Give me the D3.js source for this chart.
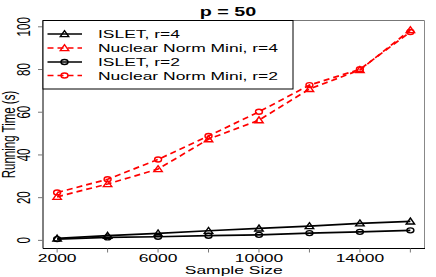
<!DOCTYPE html>
<html>
<head>
<meta charset="utf-8">
<script src="https://cdn.jsdelivr.net/npm/d3@7"></script>
<style>
  body { margin: 0; background: #fff; }
  text { font-family: "Liberation Sans", Arial, sans-serif; }
</style>
</head>
<body>
<script>
"use strict";

// sample sizes on the x axis
const sampleSizes = [2000, 4000, 6000, 8000, 10000, 12000, 14000, 16000];
const xTickLabels = [2000, 6000, 10000, 14000];
const yTicks = [0, 20, 40, 60, 80, 100];

// running times (s)
const isletR4 = [0.9, 2.2, 3.3, 4.5, 5.6, 6.7, 8.0, 8.9];
const nuclearR4 = [20.4, 26.4, 33.4, 47.4, 56.3, 70.9, 79.8, 98.5];
const isletR2 = [0.6, 1.4, 1.7, 2.2, 2.6, 3.4, 4.0, 4.7];
const nuclearR2 = [22.4, 28.6, 37.9, 48.9, 60.2, 72.7, 80.1, 97.6];

const seriesNames = ["ISLET, r=4", "Nuclear Norm Mini, r=4", "ISLET, r=2", "Nuclear Norm Mini, r=2"];

// the original picture is stretched sideways, text too
const S = 1.52;
const fontSize = 11.5;

const width = 436, height = 277;
const plot = { left: 43, right: 424.5, top: 20.5, bottom: 248.5 };

const svg = d3.select("body").append("svg")
    .attr("width", width)
    .attr("height", height);

const x = d3.scaleLinear()
    .domain([1440, 16560])
    .range([plot.left, plot.right]);

const y = d3.scaleLinear()
    .domain([-3.8, 102.95])
    .range([plot.bottom, plot.top]);

const series = [
  { name: seriesNames[0], values: isletR4, color: "#000", dash: null, shape: "tri" },
  { name: seriesNames[1], values: nuclearR4, color: "#ff0000", dash: "6,4", shape: "tri" },
  { name: seriesNames[2], values: isletR2, color: "#000", dash: null, shape: "circ" },
  { name: seriesNames[3], values: nuclearR2, color: "#ff0000", dash: "6,4", shape: "circ" }
];

function drawMarker(g, shape, cx, cy, color) {
  if (shape === "tri") {
    g.append("path")
        .attr("d", `M${cx},${cy - 3.4} L${cx + 4.2},${cy + 2.6} L${cx - 4.2},${cy + 2.6} Z`)
        .attr("fill", "none")
        .attr("stroke", color)
        .attr("stroke-width", 1.4);
  } else {
    g.append("ellipse")
        .attr("cx", cx).attr("cy", cy)
        .attr("rx", 3.5).attr("ry", 2.5)
        .attr("fill", "none")
        .attr("stroke", color)
        .attr("stroke-width", 1.4);
  }
}

function stretchedText(px, py, str, opts) {
  opts = opts || {};
  let tr = `translate(${px},${py}) scale(${S},1)`;
  if (opts.rotate) tr += " rotate(-90)";
  return svg.append("text")
      .attr("transform", tr)
      .attr("text-anchor", opts.anchor || "middle")
      .attr("font-size", opts.size || fontSize)
      .attr("font-weight", opts.bold ? "bold" : "normal")
      .attr("fill", "#000")
      .text(str);
}

// lines and points
const line = d3.line()
    .x((d, i) => x(sampleSizes[i]))
    .y(d => y(d));

series.forEach(s => {
  svg.append("path")
      .datum(s.values)
      .attr("d", line)
      .attr("fill", "none")
      .attr("stroke", s.color)
      .attr("stroke-width", 1.7)
      .attr("stroke-dasharray", s.dash);
  const g = svg.append("g");
  s.values.forEach((v, i) => drawMarker(g, s.shape, x(sampleSizes[i]), y(v), s.color));
});

// frame
svg.append("line").attr("x1", plot.left).attr("x2", plot.right)
    .attr("y1", plot.top).attr("y2", plot.top).attr("stroke", "#777");
svg.append("line").attr("x1", plot.right).attr("x2", plot.right)
    .attr("y1", plot.top).attr("y2", plot.bottom).attr("stroke", "#888");
svg.append("line").attr("x1", plot.left).attr("x2", plot.right + 0.5)
    .attr("y1", plot.bottom).attr("y2", plot.bottom).attr("stroke", "#000");
svg.append("line").attr("x1", plot.left).attr("x2", plot.left)
    .attr("y1", plot.top).attr("y2", plot.bottom).attr("stroke", "#000");

// x ticks
sampleSizes.forEach(t => {
  svg.append("line")
      .attr("x1", x(t)).attr("x2", x(t))
      .attr("y1", plot.bottom).attr("y2", plot.bottom + 4)
      .attr("stroke", "#777");
});
xTickLabels.forEach(t => stretchedText(x(t), 262, String(t)));

// y ticks
yTicks.forEach(t => {
  svg.append("line")
      .attr("x1", plot.left - 5).attr("x2", plot.left)
      .attr("y1", y(t)).attr("y2", y(t))
      .attr("stroke", "#777");
  stretchedText(30, y(t), String(t), { rotate: true });
});

// axis titles
stretchedText((plot.left + plot.right) / 2, 273.5, "Sample Size");
stretchedText(14.5, (plot.top + plot.bottom) / 2, "Running Time (s)", { rotate: true });
stretchedText(228, 16, "p = 50", { bold: true, size: 13 });

// legend
const legend = svg.append("g");
legend.append("rect")
    .attr("x", plot.left).attr("y", plot.top)
    .attr("width", 250).attr("height", 68.5)
    .attr("fill", "#fff")
    .attr("stroke", "#000")
    .attr("stroke-width", 1);

const rowY = [34, 48, 62, 75.5];
series.forEach((s, i) => {
  legend.append("line")
      .attr("x1", 47.5).attr("x2", 82)
      .attr("y1", rowY[i]).attr("y2", rowY[i])
      .attr("stroke", s.color)
      .attr("stroke-width", 1.7)
      .attr("stroke-dasharray", s.dash);
  drawMarker(legend, s.shape, 64.5, rowY[i], s.color);
  stretchedText(98, rowY[i] + 4.2, s.name, { anchor: "start" });
});
</script>
</body>
</html>
